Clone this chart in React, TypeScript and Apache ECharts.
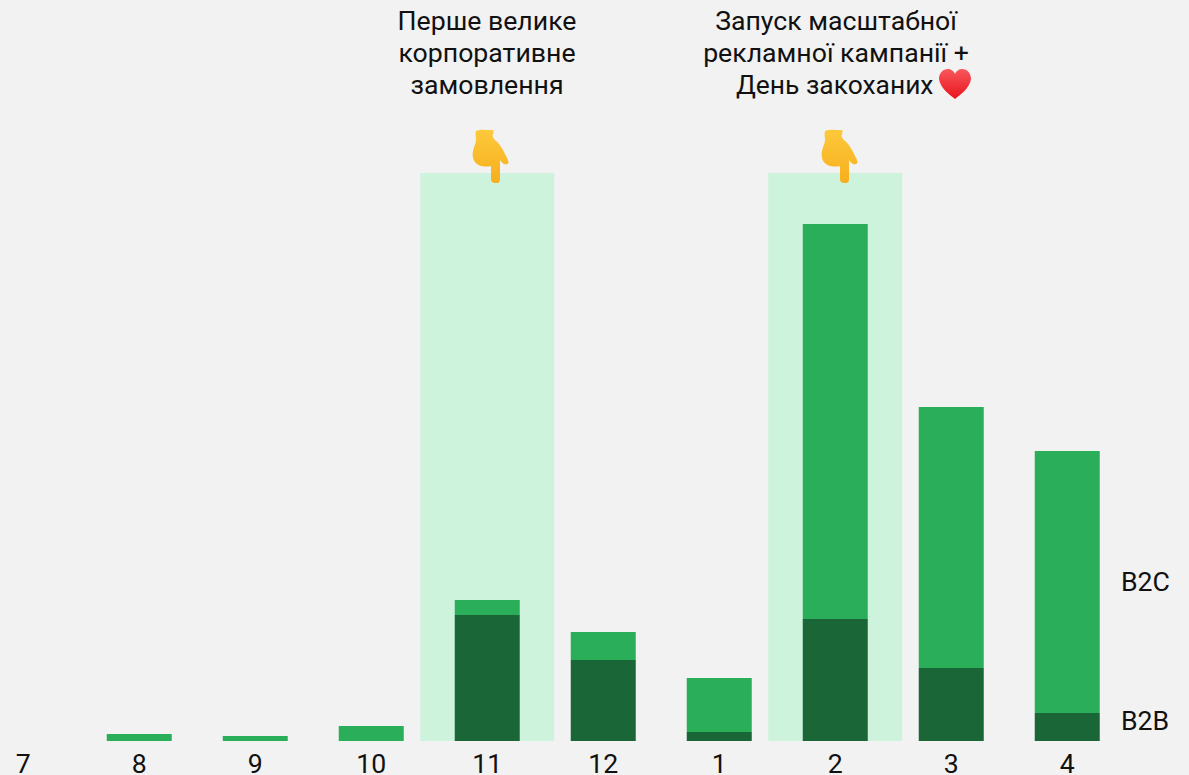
import React, { useEffect, useRef } from "react";
import * as echarts from "echarts";

const categories = ["7", "8", "9", "10", "11", "12", "1", "2", "3", "4"];
const b2b = [0, 0, 0, 0, 126, 81, 9, 122, 73, 28];
const b2c = [0, 7, 5, 15, 15, 28, 54, 395, 261, 262];
const highlight = ["-", "-", "-", "-", 568, "-", "-", 568, "-", "-"];

const BG = "#f2f2f2";
const FONT = "Roboto";
const FONT_SIZE = 26.67;
const SHIFT = 35;

const HAND =
  "M4 2C8 0 14 1 20 1C22 1 22 3 21 5C20 7 21 9 23 11C27 14 31 20 34 27C36 31 38 34 35 35C32 36 30 34 28 31L28 50C28 54 26 54 24 54C21 54 19 53 19 50L19 37C15 38 9 38 5 35C1 32 0 27 1 22C2 17 4 14 4 11C4 8 3 5 4 2Z";
const HEART =
  "M16 30C11 26 1 19 0 10C0 4 4 0 9 0C12 0 15 2 16 5C17 2 20 0 23 0C28 0 32 4 32 10C31 19 21 26 16 30Z";

echarts.graphic.registerShape("handIcon", echarts.graphic.extendPath(HAND, {}) as any);
echarts.graphic.registerShape("heartIcon", echarts.graphic.extendPath(HEART, {}) as any);

const textEl = (text: string, x: number, y: number, align = "center", size = FONT_SIZE) => ({
  type: "text",
  x: x + SHIFT,
  y,
  silent: true,
  style: { text, fill: "#111", font: `${size}px ${FONT}`, textAlign: align, textVerticalAlign: "middle" },
});

const handFill = new echarts.graphic.LinearGradient(0, 0, 0, 1, [
  { offset: 0, color: "#fdc93c" },
  { offset: 1, color: "#f7ae1c" },
]);
const heartFill = new echarts.graphic.LinearGradient(0, 0, 0, 1, [
  { offset: 0, color: "#f8575c" },
  { offset: 1, color: "#e8141c" },
]);

export default function App() {
  const ref = useRef<HTMLDivElement>(null);
  useEffect(() => {
    const chart = echarts.init(ref.current!, null, { renderer: "svg" });
    chart.setOption({
      animation: false,
      backgroundColor: BG,
      grid: { left: 0.25, width: 1160, top: 173, height: 568, outerBoundsMode: "none" },
      xAxis: [
        {
          type: "category",
          data: categories,
          axisLine: { show: false },
          axisTick: { show: false },
          axisLabel: { color: "#111", fontFamily: FONT, fontSize: FONT_SIZE, lineHeight: 22, margin: 12, interval: 0 },
        },
        { type: "category", data: categories, show: false },
      ],
      yAxis: { type: "value", min: 0, max: 568, show: false },
      series: [
        {
          type: "bar",
          xAxisIndex: 1,
          data: highlight,
          barWidth: 134,
          itemStyle: { color: "#cdf3dd" },
          z: 1,
          silent: true,
        },
        {
          name: "B2B",
          type: "bar",
          stack: "t",
          data: b2b,
          barWidth: 65,
          itemStyle: { color: "#1a6637" },
          z: 2,
        },
        {
          name: "B2C",
          type: "bar",
          stack: "t",
          data: b2c,
          barWidth: 65,
          itemStyle: { color: "#2bae59" },
          z: 2,
        },
      ],
      graphic: [
        textEl("Перше велике", 487, 21),
        textEl("корпоративне", 487, 53),
        textEl("замовлення", 487, 85),
        textEl("Запуск масштабної", 836, 21),
        textEl("рекламної кампанії +", 836, 53),
        textEl("День закоханих", 736, 85, "left", 26.4),
        textEl("B2C", 1121, 582, "left"),
        textEl("B2B", 1121, 721, "left"),
        { type: "handIcon", x: 472 + SHIFT, y: 129, silent: true, z: 10, style: { fill: handFill } },
        { type: "handIcon", x: 821 + SHIFT, y: 129, silent: true, z: 10, style: { fill: handFill } },
        { type: "heartIcon", x: 939 + SHIFT, y: 69, silent: true, z: 10, style: { fill: heartFill } },
      ],
    });
    return () => chart.dispose();
  }, []);
  return <div ref={ref} style={{ position: "fixed", left: -SHIFT, top: 0, width: 1189 + SHIFT, height: 775 }} />;
}
